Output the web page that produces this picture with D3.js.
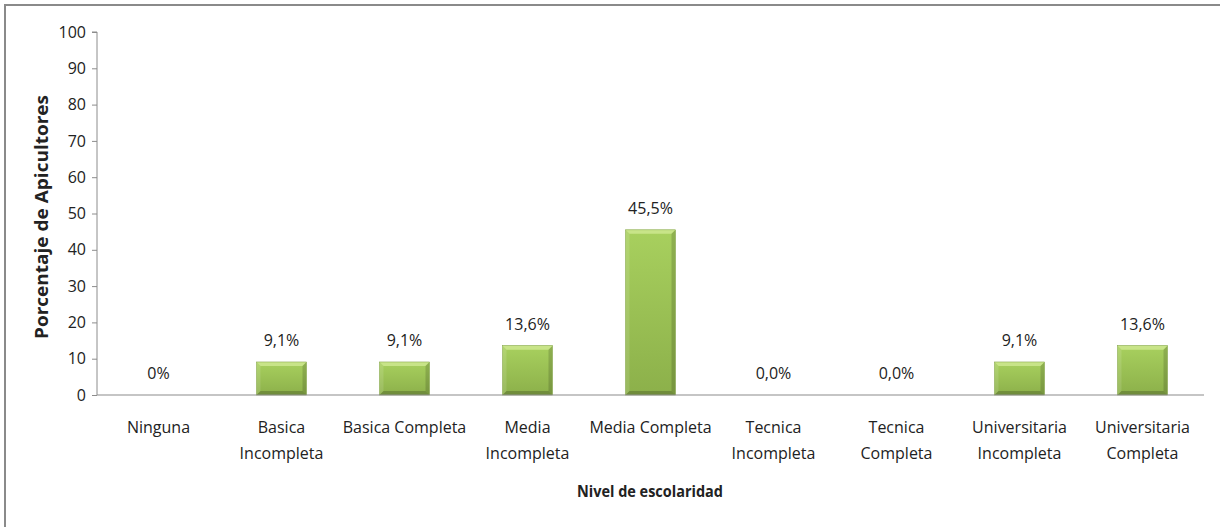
<!DOCTYPE html>
<html><head><meta charset="utf-8">
<script src="https://cdn.jsdelivr.net/npm/d3@7"></script>
<style>
body{margin:0;background:#fff;}
text{font-family:"Open Sans",sans-serif;fill:#222;}
</style></head>
<body><svg id="c" width="1220" height="527"></svg>
<script>
const categories = [["Ninguna"],["Basica","Incompleta"],["Basica Completa"],["Media","Incompleta"],["Media Completa"],["Tecnica","Incompleta"],["Tecnica","Completa"],["Universitaria","Incompleta"],["Universitaria","Completa"]];
const values = [0, 9.1, 9.1, 13.6, 45.5, 0, 0, 9.1, 13.6];
const valueLabels = ["0%","9,1%","9,1%","13,6%","45,5%","0,0%","0,0%","9,1%","13,6%"];
const yTicks = [0,10,20,30,40,50,60,70,80,90,100];

const svg = d3.select("#c");
svg.append("rect").attr("x",5).attr("y",5).attr("width",1230).attr("height",540)
  .attr("fill","#fff").attr("stroke","#8a8a8a").attr("stroke-width",2);

const x0 = 97, x1 = 1204, yb = 395, yt = 32;
const x = d3.scaleBand().domain(d3.range(categories.length)).range([x0,x1]).paddingInner(0).paddingOuter(0);
const y = d3.scaleLinear().domain([0,100]).range([yb,yt]);
const bw = 50;

const defs = svg.append("defs");
const g1 = defs.append("linearGradient").attr("id","bg").attr("x1",0).attr("y1",0).attr("x2",0).attr("y2",1);
g1.append("stop").attr("offset","0%").attr("stop-color","#a8d05e");
g1.append("stop").attr("offset","100%").attr("stop-color","#8cb04a");

// axes
const ya = svg.append("g").attr("transform",`translate(${x0},0)`)
  .call(d3.axisLeft(y).tickValues(yTicks).tickSize(5).tickPadding(6));
ya.select(".domain").attr("stroke","#8c8c8c").attr("d",`M-5,${yt}H0V${yb}`);
ya.selectAll(".tick line").attr("stroke","#8c8c8c");
ya.selectAll(".tick text").attr("font-size",16).attr("fill","#222")
  .attr("font-family",'"Open Sans",sans-serif');

// bars
const bars = svg.append("g").selectAll("g").data(values).join("g");
bars.each(function(v,i){
  if(v<=0) return;
  const g = d3.select(this);
  const cx = x(i)+x.bandwidth()/2, l = cx-bw/2, r = cx+bw/2, t = y(v), b = y(0);
  const bev = 4;
  g.append("rect").attr("x",l).attr("y",t).attr("width",bw).attr("height",b-t).attr("fill","url(#bg)");
  g.append("path").attr("d",`M${l},${t}L${r},${t}L${r-bev},${t+bev}L${l+bev},${t+bev}Z`).attr("fill","#c8e488");
  g.append("path").attr("d",`M${l},${t}L${l+bev},${t+bev}L${l+bev},${b-bev}L${l},${b}Z`).attr("fill","#ffffff").attr("opacity",0.12);
  g.append("path").attr("d",`M${r},${t}L${r-bev},${t+bev}L${r-bev},${b-bev}L${r},${b}Z`).attr("fill","#000").attr("opacity",0.15);
  g.append("path").attr("d",`M${l},${b}L${l+bev},${b-bev}L${r-bev},${b-bev}L${r},${b}Z`).attr("fill","#000").attr("opacity",0.2);
  g.append("rect").attr("x",l).attr("y",t).attr("width",bw).attr("height",b-t).attr("fill","none").attr("stroke","#7f9f40").attr("stroke-width",0.5);
});

svg.append("line").attr("x1",x0).attr("x2",x1).attr("y1",yb).attr("y2",yb)
  .attr("stroke","#8c8c8c").attr("stroke-width",1.2);

// value labels
svg.append("g").selectAll("text").data(values).join("text")
  .attr("x",(d,i)=>x(i)+x.bandwidth()/2).attr("y",d=>y(d)-16)
  .attr("text-anchor","middle").attr("font-size",16).text((d,i)=>valueLabels[i]);

// category labels
const cl = svg.append("g").selectAll("text").data(categories).join("text")
  .attr("x",(d,i)=>x(i)+x.bandwidth()/2).attr("y",433)
  .attr("text-anchor","middle").attr("font-size",16);
cl.each(function(d,i){
  const t = d3.select(this);
  d.forEach((s,k)=>t.append("tspan").attr("x",x(i)+x.bandwidth()/2).attr("dy",k===0?0:26).text(s));
});

// titles
svg.append("text").attr("x",650).attr("y",497).attr("text-anchor","middle")
  .attr("font-size",16).attr("font-weight","bold")
  .attr("textLength",146).attr("lengthAdjust","spacingAndGlyphs").text("Nivel de escolaridad");
svg.append("text").attr("transform",`translate(48,217) rotate(-90)`).attr("text-anchor","middle")
  .attr("font-size",17).attr("font-weight","bold")
  .attr("textLength",244).attr("lengthAdjust","spacingAndGlyphs").text("Porcentaje de Apicultores");
</script></body></html>
